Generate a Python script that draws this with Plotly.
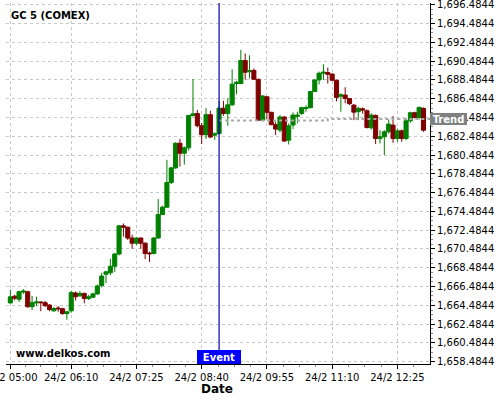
import plotly.graph_objects as go

DAY = "2020-02-24 "

# 5-minute candles, 24 Feb
times = [
    "05:00", "05:05", "05:10", "05:15", "05:20", "05:25", "05:30", "05:35", "05:40", "05:45", "05:50", "05:55",
    "06:00", "06:05", "06:10", "06:15", "06:20", "06:25", "06:30", "06:35", "06:40", "06:45", "06:50", "06:55",
    "07:00", "07:05", "07:10", "07:15", "07:20", "07:25", "07:30", "07:35", "07:40", "07:45", "07:50", "07:55",
    "08:00", "08:05", "08:10", "08:15", "08:20", "08:25", "08:30", "08:35", "08:40", "08:45", "08:50", "08:55",
    "09:00", "09:05", "09:10", "09:15", "09:20", "09:25", "09:30", "09:35", "09:40", "09:45", "09:50", "09:55",
    "10:00", "10:05", "10:10", "10:15", "10:20", "10:25", "10:30", "10:35", "10:40", "10:45", "10:50", "10:55",
    "11:00", "11:05", "11:10", "11:15", "11:20", "11:25", "11:30", "11:35", "11:40", "11:45", "11:50", "11:55",
    "12:00", "12:05", "12:10", "12:15", "12:20", "12:25", "12:30", "12:35", "12:40", "12:45", "12:50", "12:55",
]
opens = [
    1664.74, 1665.46, 1665.13, 1665.90, 1665.93, 1664.34, 1664.74, 1664.84, 1664.77, 1664.52, 1663.90, 1664.20,
    1664.12, 1663.60, 1663.90, 1665.80, 1665.50, 1665.75, 1665.20, 1665.35, 1665.70, 1666.60, 1667.80, 1667.95,
    1668.65, 1669.95, 1672.95, 1672.80, 1671.65, 1671.10, 1671.65, 1671.10, 1670.05, 1670.00, 1671.65, 1674.15,
    1674.93, 1677.56, 1679.12, 1681.74, 1680.68, 1681.25, 1684.69, 1684.90, 1683.60, 1682.65, 1684.78, 1682.60,
    1682.78, 1685.47, 1684.90, 1685.83, 1688.10, 1688.10, 1690.55, 1689.35, 1689.50, 1688.55, 1684.20, 1686.68,
    1685.03, 1683.72, 1683.14, 1684.53, 1682.07, 1683.68, 1684.60, 1684.92, 1685.45, 1685.53, 1687.24, 1688.48,
    1689.20, 1689.26, 1689.10, 1688.45, 1686.75, 1686.87, 1686.50, 1685.80, 1685.10, 1685.41, 1685.20, 1683.38,
    1684.70, 1682.24, 1682.42, 1682.96, 1683.67, 1682.24, 1683.06, 1682.24, 1684.13, 1684.99, 1684.49, 1685.45,
]
highs = [
    1666.15, 1665.60, 1666.04, 1666.20, 1666.04, 1665.50, 1665.40, 1664.90, 1664.95, 1664.60, 1664.30, 1664.40,
    1664.23, 1663.87, 1666.04, 1665.95, 1666.00, 1665.85, 1665.60, 1665.85, 1666.70, 1667.95, 1668.15, 1669.45,
    1670.05, 1673.05, 1673.20, 1672.87, 1672.00, 1671.75, 1671.70, 1671.20, 1670.20, 1671.75, 1675.80, 1675.10,
    1679.97, 1679.20, 1681.85, 1682.20, 1681.40, 1684.76, 1688.58, 1685.28, 1683.90, 1685.48, 1685.20, 1682.90,
    1686.25, 1686.25, 1686.54, 1689.62, 1688.38, 1691.68, 1691.30, 1691.10, 1689.70, 1688.60, 1686.86, 1686.75,
    1685.10, 1684.03, 1684.74, 1684.64, 1683.85, 1685.03, 1685.10, 1685.63, 1685.80, 1687.30, 1688.55, 1689.37,
    1690.15, 1689.80, 1689.20, 1688.50, 1687.05, 1687.70, 1686.55, 1685.90, 1685.63, 1685.56, 1685.34, 1684.92,
    1684.80, 1683.13, 1683.13, 1684.28, 1684.63, 1683.31, 1683.20, 1684.38, 1685.10, 1685.10, 1685.63, 1685.56,
]
lows = [
    1664.70, 1665.00, 1664.84, 1665.70, 1664.23, 1663.97, 1664.40, 1663.86, 1664.30, 1663.86, 1663.80, 1663.80,
    1663.50, 1662.95, 1663.70, 1665.00, 1665.40, 1664.70, 1665.05, 1665.25, 1665.60, 1666.40, 1666.85, 1667.70,
    1668.05, 1669.80, 1671.80, 1671.45, 1670.50, 1670.90, 1670.50, 1669.40, 1669.10, 1669.90, 1671.60, 1674.10,
    1674.90, 1677.40, 1679.00, 1679.26, 1679.47, 1680.96, 1684.60, 1683.43, 1681.65, 1682.20, 1682.30, 1682.10,
    1682.70, 1684.66, 1683.60, 1685.72, 1686.96, 1688.03, 1688.50, 1688.64, 1688.46, 1684.10, 1684.10, 1684.30,
    1683.65, 1682.61, 1682.90, 1681.90, 1681.61, 1683.25, 1683.85, 1684.74, 1685.10, 1685.45, 1687.20, 1688.00,
    1688.48, 1688.10, 1688.35, 1686.20, 1685.10, 1686.00, 1685.80, 1684.20, 1684.20, 1684.90, 1683.31, 1683.20,
    1681.65, 1681.71, 1680.47, 1682.78, 1681.78, 1681.89, 1681.89, 1682.06, 1683.92, 1684.38, 1684.28, 1682.96,
]
closes = [
    1665.39, 1665.24, 1665.93, 1666.00, 1664.34, 1664.77, 1664.84, 1664.77, 1664.45, 1664.04, 1664.15, 1664.12,
    1663.60, 1663.80, 1665.85, 1665.40, 1665.75, 1665.20, 1665.40, 1665.70, 1666.55, 1667.60, 1668.05, 1668.65,
    1669.95, 1672.95, 1672.80, 1671.65, 1671.10, 1671.65, 1671.10, 1670.00, 1669.98, 1671.65, 1674.15, 1674.93,
    1677.56, 1679.12, 1681.74, 1680.68, 1681.25, 1684.69, 1684.87, 1683.60, 1682.65, 1684.78, 1682.40, 1682.75,
    1685.47, 1684.90, 1685.83, 1688.03, 1688.24, 1690.55, 1689.30, 1689.45, 1688.55, 1684.20, 1686.77, 1685.03,
    1683.72, 1683.25, 1684.53, 1681.97, 1683.60, 1684.74, 1684.74, 1685.53, 1685.53, 1687.24, 1688.48, 1689.19,
    1689.30, 1689.08, 1688.45, 1686.62, 1686.90, 1686.50, 1685.95, 1685.05, 1685.45, 1685.27, 1683.42, 1684.74,
    1682.24, 1682.42, 1682.96, 1683.78, 1682.24, 1683.06, 1682.24, 1684.13, 1684.99, 1684.49, 1685.56, 1683.13,
]

# Trend level after the event
trend_times = ["09:00", "11:05", "13:02:30"]
trend_values = [1684.15, 1684.33, 1684.33]
event_time = "09:00"
trend_label_value = 1684.35

# Axes
y_ticks = [1658.4844, 1660.4844, 1662.4844, 1664.4844, 1666.4844, 1668.4844, 1670.4844,
           1672.4844, 1674.4844, 1676.4844, 1678.4844, 1680.4844, 1682.4844, 1684.4844,
           1686.4844, 1688.4844, 1690.4844, 1692.4844, 1694.4844, 1696.4844]
x_tick_times = ["05:00", "06:10", "07:25", "08:40", "09:55", "11:10", "12:25"]
x_tick_labels = ["24/2 05:00", "24/2 06:10", "24/2 07:25", "24/2 08:40",
                 "24/2 09:55", "24/2 11:10", "24/2 12:25"]
x_minor_times = ["05:17:30", "05:35", "05:52:30", "06:28:45", "06:47:30", "07:06:15",
                 "07:43:45", "08:02:30", "08:21:15", "08:58:45", "09:17:30", "09:36:15",
                 "10:13:45", "10:32:30", "10:51:15", "11:28:45", "11:47:30", "12:06:15",
                 "12:43:45"]
x_range = ["04:55", "13:02:30"]
y_range = [1658.24, 1696.67]

FONT = "DejaVu Sans"
GREEN = "#008000"
RED = "#800000"

fig = go.Figure()
fig.add_trace(go.Candlestick(
    x=[DAY + t for t in times], open=opens, high=highs, low=lows, close=closes,
    increasing=dict(line=dict(color=GREEN, width=1), fillcolor=GREEN),
    decreasing=dict(line=dict(color=RED, width=1), fillcolor=RED),
    whiskerwidth=0, showlegend=False, hoverinfo="skip",
))
fig.add_trace(go.Scatter(
    x=[DAY + t for t in trend_times], y=trend_values, mode="lines",
    line=dict(color="#a8a8a8", width=2, dash="dot", shape="hv"),
    showlegend=False, hoverinfo="skip",
))

fig.add_shape(type="line", xref="x", yref="paper",
              x0=DAY + event_time, x1=DAY + event_time, y0=0, y1=1,
              line=dict(color="#0000b0", width=1.2))

grid = dict(showgrid=True, gridcolor="#c8c8c8", griddash="3px,3px", gridwidth=1)

fig.update_layout(
    width=500, height=400,
    margin=dict(l=6, r=70, t=3, b=36, autoexpand=False),
    paper_bgcolor="white", plot_bgcolor="white",
    font=dict(family=FONT, size=10, color="black"),
    boxgap=0.06, boxgroupgap=0,
    xaxis=dict(
        type="date", range=[DAY + x_range[0], DAY + x_range[1]],
        rangeslider=dict(visible=False),
        automargin=False,
        tickmode="array", tickvals=[DAY + t for t in x_tick_times], ticktext=x_tick_labels,
        ticks="outside", ticklen=4, tickcolor="black",
        ticklabeloverflow="allow",
        showline=True, linecolor="black", linewidth=1,
        zeroline=False,
        tickfont=dict(family=FONT, size=10, color="black"),
        minor=dict(tickmode="array", tickvals=[DAY + t for t in x_minor_times],
                   ticks="outside", ticklen=2, tickcolor="#888888", showgrid=False),
        **grid,
    ),
    yaxis=dict(
        side="right", range=y_range,
        automargin=False,
        tickmode="array", tickvals=y_ticks, tickformat=",.4f",
        ticks="outside", ticklen=4, tickcolor="black",
        ticklabeloverflow="allow",
        showline=True, linecolor="black", linewidth=1,
        zeroline=False,
        tickfont=dict(family=FONT, size=10, color="black"),
        minor=dict(dtick=0.5, tick0=1658.4844, ticks="outside", ticklen=2,
                   tickcolor="#888888", showgrid=False),
        **grid,
    ),
)

fig.add_annotation(xref="paper", yref="paper", x=0.008, y=0.9654,
                   xanchor="left", yanchor="middle", showarrow=False,
                   text="<b>GC 5 (COMEX)</b>", font=dict(family=FONT, size=10, color="black"))
fig.add_annotation(xref="paper", yref="paper", x=0.019, y=0.0285,
                   xanchor="left", yanchor="middle", showarrow=False,
                   text="<b>www.delkos.com</b>", font=dict(family=FONT, size=10, color="black"))
fig.add_annotation(xref="paper", yref="paper", x=0.497, y=-0.0706,
                   xanchor="center", yanchor="middle", showarrow=False,
                   text="<b>Date</b>", font=dict(family=FONT, size=12, color="black"))
fig.add_annotation(xref="x", yref="paper", x=DAY + event_time, y=0,
                   xanchor="center", yanchor="bottom", showarrow=False,
                   text="<b>Event</b>", bgcolor="#0000ff", borderpad=0, borderwidth=0,
                   width=44, height=14, font=dict(family=FONT, size=10, color="white"))
fig.add_annotation(xref="paper", yref="y", x=1, y=trend_label_value,
                   xanchor="left", yanchor="middle", showarrow=False,
                   text="<b>Trend</b>", bgcolor="#808080", borderpad=0, borderwidth=0,
                   width=37, height=12, font=dict(family=FONT, size=10, color="white"))

fig.write_html("out.html", config={"displayModeBar": False},
               post_script="document.body.style.margin='0';document.body.style.overflow='hidden';")
